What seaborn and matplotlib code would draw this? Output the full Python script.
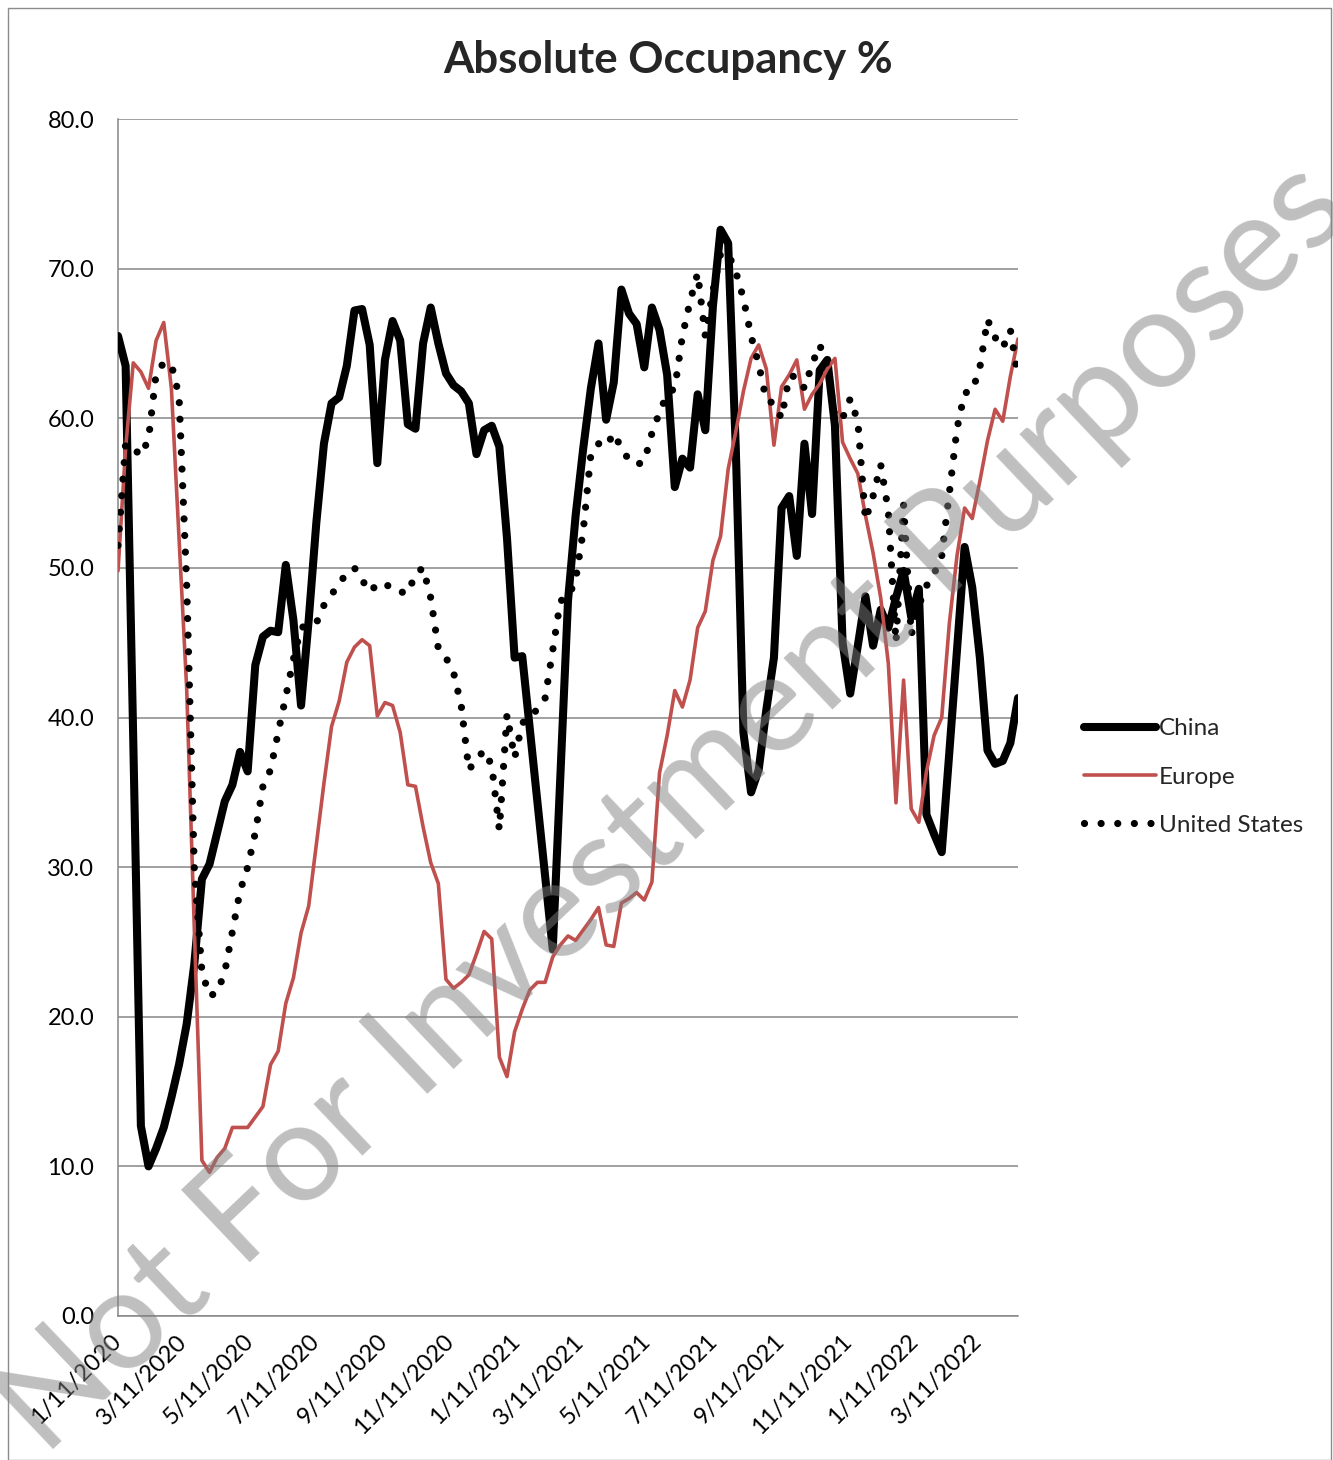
import numpy as np
import pandas as pd
import matplotlib
matplotlib.use("Agg")
import matplotlib.pyplot as plt
from matplotlib.patches import Rectangle
import seaborn as sns

# ---------------- data (weekly, starting 1/11/2020) ----------------
start_date = "2020-01-11"

china = [65.5, 63.5, 38.5, 12.7, 10.0, 11.2, 12.6, 14.6, 16.8, 19.5,
         23.5, 29.2, 30.2, 32.3, 34.4, 35.5, 37.7, 36.4, 43.5, 45.4,
         45.8, 45.7, 50.2, 46.5, 40.8, 46.5, 53.0, 58.3, 61.0, 61.4,
         63.5, 67.2, 67.3, 64.9, 57.0, 63.9, 66.5, 65.2, 59.6, 59.3,
         65.0, 67.4, 65.0, 63.0, 62.2, 61.8, 61.0, 57.6, 59.2, 59.5,
         58.1, 52.0, 44.0, 44.1, 39.2, 34.3, 29.4, 24.5, 36.1, 47.8,
         53.5, 58.0, 62.0, 65.0, 59.9, 62.4, 68.6, 67.0, 66.3, 63.4,
         67.4, 65.9, 62.9, 55.4, 57.3, 56.7, 61.6, 59.2, 67.5, 72.6,
         71.7, 58.0, 39.0, 35.0, 36.5, 40.5, 44.0, 54.0, 54.8, 50.8,
         58.3, 53.6, 63.2, 63.9, 59.5, 45.0, 41.6, 44.8, 48.1, 44.8,
         47.2, 46.0, 48.0, 49.8, 46.7, 48.6, 33.5, 32.2, 31.0, 37.7,
         44.5, 51.4, 48.7, 44.0, 37.8, 36.9, 37.1, 38.3, 41.3]

europe = [49.8, 58.0, 63.7, 63.1, 62.0, 65.2, 66.4, 62.0, 52.0, 42.0,
          26.0, 10.4, 9.6, 10.6, 11.2, 12.6, 12.6, 12.6, 13.3, 14.0,
          16.8, 17.7, 20.9, 22.6, 25.6, 27.4, 31.5, 35.6, 39.4, 41.1,
          43.7, 44.7, 45.2, 44.8, 40.1, 41.0, 40.8, 39.0, 35.5, 35.4,
          32.7, 30.3, 28.9, 22.5, 21.9, 22.3, 22.8, 24.2, 25.7, 25.2,
          17.3, 16.0, 19.0, 20.5, 21.8, 22.3, 22.3, 24.0, 24.8, 25.4,
          25.1, 25.8, 26.5, 27.3, 24.8, 24.7, 27.6, 27.9, 28.3, 27.8,
          29.0, 36.3, 38.8, 41.8, 40.7, 42.5, 46.0, 47.1, 50.5, 52.1,
          56.6, 59.1, 61.8, 64.0, 64.9, 63.3, 58.2, 62.1, 62.9, 63.9,
          60.6, 61.6, 62.3, 63.3, 64.0, 58.4, 57.3, 56.3, 53.5, 51.0,
          48.0, 43.6, 34.3, 42.5, 33.9, 33.0, 36.4, 38.8, 40.0, 46.3,
          50.8, 54.0, 53.3, 55.8, 58.5, 60.6, 59.8, 62.8, 65.3]

united_states = [51.5, 58.3, 58.0, 57.5, 58.6, 63.0, 63.7, 63.6, 61.5, 49.0,
                 30.0, 23.0, 21.4, 21.6, 23.0, 25.7, 28.4, 30.0, 32.3, 35.4,
                 36.5, 39.0, 41.4, 43.9, 46.0, 46.2, 46.3, 47.5, 48.2, 49.0,
                 49.6, 50.0, 49.2, 48.4, 48.9, 49.0, 48.5, 48.4, 48.3, 49.6,
                 50.0, 48.0, 44.6, 44.0, 43.0, 40.8, 36.5, 37.2, 37.8, 36.8,
                 32.5, 40.2, 37.3, 39.6, 40.2, 40.5, 41.3, 44.5, 47.8, 48.0,
                 49.2, 52.5, 57.6, 58.3, 58.1, 59.0, 58.0, 57.2, 56.9, 57.1,
                 59.0, 60.4, 61.6, 62.0, 65.5, 67.8, 69.7, 65.5, 68.5, 71.0,
                 71.0, 69.8, 68.0, 65.5, 63.6, 61.2, 61.0, 60.0, 62.8, 62.8,
                 62.0, 63.6, 64.9, 63.5, 60.0, 60.0, 61.3, 59.8, 53.2, 54.8,
                 56.9, 53.8, 45.0, 54.2, 45.5, 47.5, 48.8, 49.6, 50.8, 55.0,
                 59.3, 61.7, 61.8, 63.4, 66.6, 65.4, 64.7, 65.9, 62.8]

tick_dates = ["2020-01-11", "2020-03-11", "2020-05-11", "2020-07-11",
              "2020-09-11", "2020-11-11", "2021-01-11", "2021-03-11",
              "2021-05-11", "2021-07-11", "2021-09-11", "2021-11-11",
              "2022-01-11", "2022-03-11"]
tick_labels = ["1/11/2020", "3/11/2020", "5/11/2020", "7/11/2020",
               "9/11/2020", "11/11/2020", "1/11/2021", "3/11/2021",
               "5/11/2021", "7/11/2021", "9/11/2021", "11/11/2021",
               "1/11/2022", "3/11/2022"]
y_ticks = [0, 10, 20, 30, 40, 50, 60, 70, 80]

title = "Absolute Occupancy %"
watermark = "Not For Investment Purposes"

# ---------------- style ----------------
sns.set_style("white")
plt.rcParams['font.family'] = ['Lato', 'DejaVu Sans']

W, H = 1333, 1460
fig = plt.figure(figsize=(W / 100, H / 100), dpi=100)
fig.patch.set_facecolor("white")

ax = fig.add_axes([118 / W, 1 - 1316 / H, 900 / W, (1316 - 119) / H])

dates = pd.date_range(start_date, periods=len(china), freq="7D")
df = pd.DataFrame({"date": dates, "China": china, "Europe": europe,
                   "United States": united_states})

sns.lineplot(data=df, x="date", y="China", ax=ax, color="black",
             linewidth=5.8, solid_joinstyle="round", solid_capstyle="round",
             label="China", zorder=3)
sns.lineplot(data=df, x="date", y="Europe", ax=ax, color="#c0504d",
             linewidth=2.6, solid_joinstyle="round", label="Europe", zorder=4)
sns.lineplot(data=df, x="date", y="United States", ax=ax, color="black",
             linewidth=5.2, linestyle=(0, (0.001, 2.3)),
             dash_capstyle="round", label="United States", zorder=5)

grid_c = "#868686"
ax.set_xlim(dates[0], dates[-1])
ax.set_ylim(0, 80)
ax.set_yticks(y_ticks)
ax.set_yticklabels([f"{v:.1f}" for v in y_ticks])
ax.set_xticks(pd.to_datetime(tick_dates))
ax.set_xticklabels(tick_labels, rotation=45, ha="right", va="center",
                   rotation_mode="anchor")
ax.set_xlabel("")
ax.set_ylabel("")
ax.grid(axis="y", color=grid_c, linewidth=1.1)
ax.grid(axis="x", visible=False)
ax.set_axisbelow(True)
for s in ["top", "right"]:
    ax.spines[s].set_visible(False)
for s in ["left", "bottom"]:
    ax.spines[s].set_color(grid_c)
    ax.spines[s].set_linewidth(1.1)
ax.tick_params(axis="both", direction="out", length=6, width=1.1,
               color=grid_c, labelsize=17, labelcolor="black")
ax.tick_params(axis="y", pad=11)
ax.tick_params(axis="x", pad=10)

handles, labels = ax.get_legend_handles_labels()
ax.legend_.remove()
fig.legend(handles, labels, loc="center left",
           bbox_to_anchor=(1084 / W, 1 - 777 / H), frameon=False,
           fontsize=17.5, handlelength=2.95, handletextpad=0.12,
           labelspacing=1.12, borderpad=0, borderaxespad=0)

fig.text(0.5015, 1 - 60 / H, title, ha="center", va="center",
         fontsize=31.5, fontweight="bold")

# chart-area border
fig.add_artist(Rectangle((8 / W, 0), (1331 - 8) / W, 1 - 8 / H,
                         transform=fig.transFigure, fill=False,
                         edgecolor="#8c8c8c", linewidth=1.0))

# watermark
wm = fig.text(672 / W, 1 - 808 / H, watermark, ha="center", va="center",
              fontsize=100, color=(0.5, 0.5, 0.5), alpha=0.5,
              rotation=0, rotation_mode="anchor", zorder=20)
renderer = fig.canvas.get_renderer()
bb = wm.get_window_extent(renderer)
wm.set_fontsize(100 * 1805 / bb.width)
wm.set_rotation(43.5)

fig.savefig("out.png", dpi=100, facecolor="white")
